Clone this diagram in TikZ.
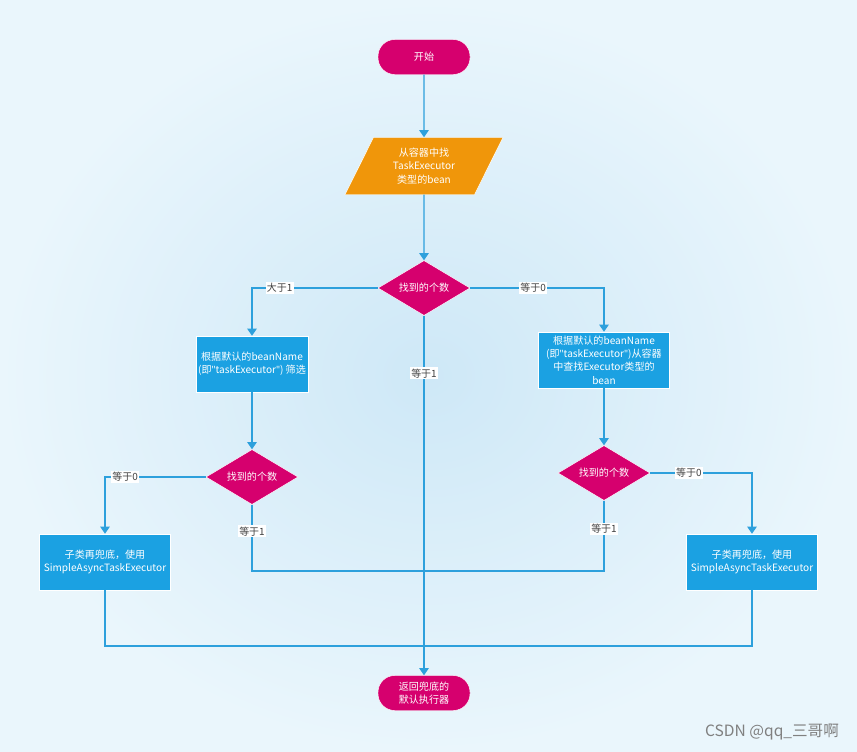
\documentclass[tikz,border=0pt]{standalone}
\usepackage{fontspec}
\setmainfont{Noto Sans CJK SC}
\newfontfamily\latinfont{Open Sans}
\usetikzlibrary{shapes.geometric,arrows.meta,positioning,calc}
\definecolor{flowred}{RGB}{214,0,110}
\definecolor{floworange}{RGB}{240,150,10}
\definecolor{flowblue}{RGB}{27,161,226}
\definecolor{flowline}{RGB}{45,160,220}
\definecolor{bginner}{RGB}{206,232,247}
\definecolor{bgouter}{RGB}{234,246,252}
\newcommand{\qt}{{\latinfont"}}

\begin{document}
\begin{tikzpicture}[x=0.03cm, y=-0.03cm,
  every node/.style={font=\fontsize{8.6}{11.3}\selectfont, text=white, align=center},
  terminal/.style={draw=white, fill=flowred, rounded corners=0.5cm, minimum width=2.76cm, minimum height=1.05cm, inner sep=1pt},
  io/.style={trapezium, trapezium left angle=64, trapezium right angle=116, trapezium stretches=true, draw=white, fill=floworange, minimum width=4.77cm, minimum height=1.71cm, inner sep=0pt},
  decision/.style={diamond, aspect=1.67, draw=white, fill=flowred, minimum width=2.76cm, minimum height=1.65cm, inner sep=0pt},
  process/.style={rectangle, draw=white, fill=flowblue, minimum height=1.68cm, inner sep=1pt},
  flow/.style={draw=flowline, line width=1pt},
  arr/.style={flow, -{Triangle[width=8pt,length=6pt]}},
  lbl/.style={fill=white, text=black!75, font=\fontsize{8.5}{10}\selectfont, inner sep=1pt}]

  % background
  \shade[inner color=bginner, outer color=bgouter] (0,0) rectangle (857,752);

  % start / end
  \node[terminal] (start) at (424,57) {开始};
  \node[terminal] (stop) at (424,693) {返回兜底的\\默认执行器};

  % lookup
  \node[io] (lookup) at (424,166) {从容器中找\\TaskExecutor\\类型的bean};
  \node[decision] (count) at (424,288) {找到的个数};

  % branches
  \node[process, minimum width=3.36cm] (byname) at (252,364) {根据默认的beanName\\(即\qt taskExecutor\qt) 筛选};
  \node[process, minimum width=3.93cm] (bytype) at (604,360) {根据默认的beanName\\(即\qt taskExecutor\qt)从容器\\中查找Executor类型的\\bean};
  \node[decision] (countl) at (252,477) {找到的个数};
  \node[decision] (countr) at (604,473) {找到的个数};
  \node[process, minimum width=3.93cm] (simplel) at (105,562) {子类再兜底，使用\\SimpleAsyncTaskExecutor};
  \node[process, minimum width=3.93cm] (simpler) at (752,562) {子类再兜底，使用\\SimpleAsyncTaskExecutor};

  % joins
  \coordinate (join1) at (424,571);
  \coordinate (join2) at (424,646);

  \draw[arr] (start) -- (lookup);
  \draw[arr] (lookup) -- (count);
  \draw[arr] (count.west) -| node[lbl, pos=0.39] {大于1} (byname.north);
  \draw[arr] (count.east) -| node[lbl, pos=0.235] {等于0} (bytype.north);
  \draw[arr] (count.south) -- node[lbl, pos=0.16] {等于1} (stop.north);
  \draw[arr] (byname) -- (countl);
  \draw[arr] (bytype) -- (countr);
  \draw[arr] (countl.west) -| node[lbl, pos=0.4] {等于0} (simplel.north);
  \draw[arr] (countr.east) -| node[lbl, pos=0.19] {等于0} (simpler.north);
  \draw[flow] (countl.south) |- node[lbl, pos=0.2] {等于1} (join1);
  \draw[flow] (countr.south) |- node[lbl, pos=0.2] {等于1} (join1);
  \draw[flow] (simplel.south) |- (join2);
  \draw[flow] (simpler.south) |- (join2);

  % watermark
  \node[text=black!50, font=\fontsize{13.3}{15}\selectfont] (mark) at (772,732) {CSDN @qq\_三哥啊};
\end{tikzpicture}
\end{document}
